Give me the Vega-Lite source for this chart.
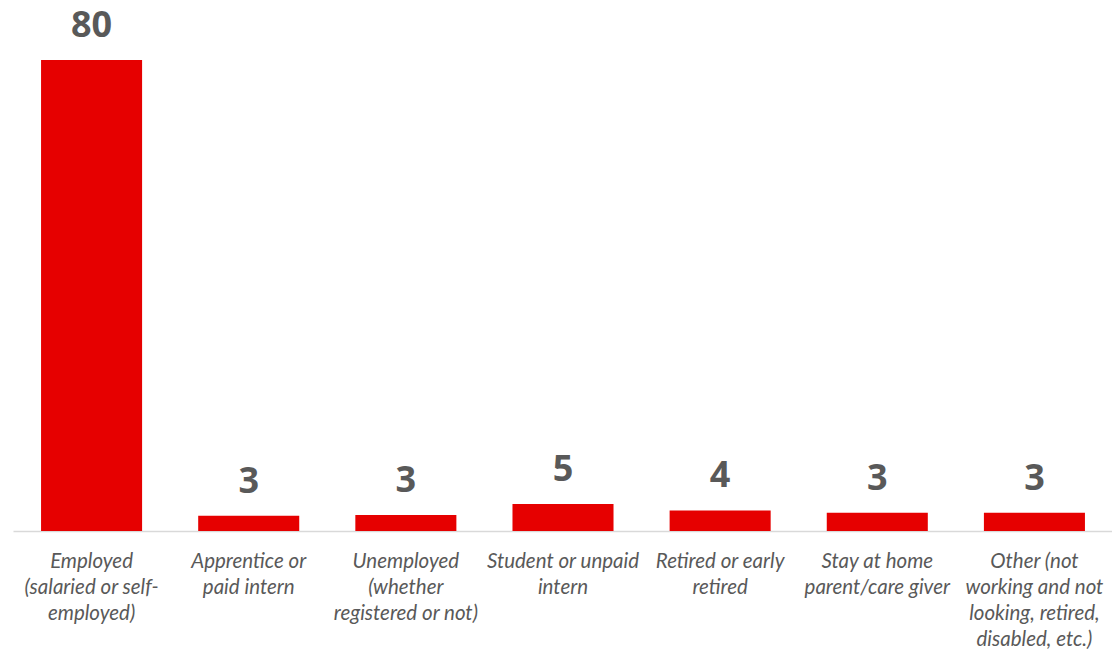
{
  "$schema": "https://vega.github.io/schema/vega-lite/v6.json",
  "autosize": "none",
  "width": 1100,
  "height": 530,
  "padding": {"left": 13, "top": 1, "right": 0, "bottom": 119},
  "background": "white",
  "config": {"view": {"stroke": null}},
  "data": {
    "values": [
      {"status": "Employed|(salaried or self-|employed)", "value": 80},
      {"status": "Apprentice or|paid intern", "value": 2.6},
      {"status": "Unemployed|(whether|registered or not)", "value": 2.7},
      {"status": "Student or unpaid|intern", "value": 4.6},
      {"status": "Retired or early|retired", "value": 3.5},
      {"status": "Stay at home|parent/care giver", "value": 3.1},
      {"status": "Other (not|working and not|looking, retired,|disabled, etc.)", "value": 3.1}
    ]
  },
  "encoding": {
    "x": {
      "field": "status",
      "type": "nominal",
      "sort": null,
      "scale": {"paddingInner": 0.357, "paddingOuter": 0.1785},
      "axis": {
        "title": null,
        "labelAngle": 0,
        "labelExpr": "split(datum.value, '|')",
        "labelFont": "Lato",
        "labelFontStyle": "italic",
        "labelFontSize": 20.5,
        "labelColor": "#595959",
        "labelLineHeight": 26,
        "labelPadding": 20,
        "labelLimit": 200,
        "ticks": false,
        "domainColor": "#d9d9d9",
        "domainWidth": 1.5
      }
    },
    "y": {
      "field": "value",
      "type": "quantitative",
      "scale": {"domain": [0, 90], "nice": false},
      "axis": null
    }
  },
  "layer": [
    {"mark": {"type": "bar", "color": "#e60000"}},
    {
      "mark": {
        "type": "text",
        "baseline": "alphabetic",
        "dy": -23,
        "font": "Open Sans",
        "fontWeight": "bold",
        "fontSize": 36,
        "color": "#595959"
      },
      "encoding": {"text": {"field": "value", "type": "quantitative", "format": ".0f"}}
    }
  ]
}
